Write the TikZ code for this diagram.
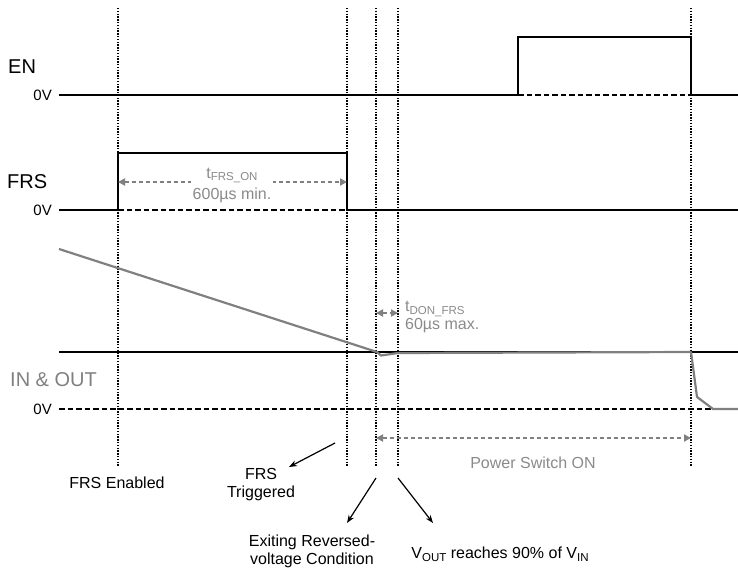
\documentclass[tikz,border=0pt]{standalone}
\usepackage{fontspec}
\setmainfont{Liberation Sans}
\usetikzlibrary{arrows.meta}
\definecolor{wavegray}{RGB}{128,128,128}
\definecolor{txtgray}{RGB}{138,138,138}
\newcommand\mysub[1]{\raisebox{-0.35ex}{\fontsize{11.5}{12}\selectfont #1}}
\begin{document}
\begin{tikzpicture}[x=1pt,y=-1pt,
  sig/.style={line width=2.6pt, black},
  zero/.style={line width=2.4pt, dash pattern=on 5.5pt off 3pt},
  marker/.style={line width=1.2pt, dash pattern=on 1.4pt off 1.4pt},
  wave/.style={wavegray, line width=2.2pt, line join=round},
  garrow/.style={wavegray, line width=1.8pt, dash pattern=on 4pt off 3pt,
    {Triangle[length=7pt,width=7pt]}-{Triangle[length=7pt,width=7pt]}},
  callout/.style={line width=1.2pt, -{Stealth[length=8pt,width=6pt]}},
  lbl/.style={font=\fontsize{20}{22}\selectfont, anchor=west, inner sep=0pt},
  zv/.style={font=\fontsize{15}{17}\selectfont, anchor=east, inner sep=0pt},
  note/.style={font=\fontsize{16}{18}\selectfont, align=center, inner sep=0pt},
]
\useasboundingbox (0,0) rectangle (738,568);
% marker lines
\foreach \xx/\nm in {118/m1,347/m2,376/m3,398/m4,691/m5}{
  \coordinate (\nm t) at (\xx,8);
  \coordinate (\nm b) at (\xx,467);
  \draw[marker] (\nm t) -- (\nm b);
}
% EN
\node[lbl] (enl) at (8,67) {EN};
\node[zv] (en0) at (52,95) {0V};
\draw[sig] (59,95) -- (518,95) -- (518,37) -- (691,37) -- (691,95) -- (738,95);
\draw[zero] (518,95) -- (691,95);
% FRS
\node[lbl] (frsl) at (7,182) {FRS};
\node[zv] (frs0) at (52,210) {0V};
\draw[sig] (59,210) -- (118,210) -- (118,153) -- (347,153) -- (347,210) -- (738,210);
\draw[zero] (118,210) -- (347,210);
\coordinate (fa) at (118,182);
\coordinate (fb) at (347,182);
\draw[garrow] (fa) -- (fb);
\node[note, fill=white, text=txtgray, inner xsep=2pt, font=\fontsize{16}{21}\selectfont] (tfrs) at (232,185) {t\mysub{FRS\_ON}\\600µs min.};
% IN & OUT
\node[lbl, text=wavegray] (iol) at (10,380) {IN \& OUT};
\node[zv] (io0) at (52,409) {0V};
\draw[sig] (59,352) -- (738,352);
\draw[zero] (59,409) -- (738,409);
\draw[wave] (59,249) -- (377,352) -- (381,355.5) -- (398,353) -- (691,352) -- (697,397) -- (713,409) -- (738,409);
\coordinate (da) at (376,313);
\coordinate (db) at (398,313);
\draw[garrow] (da) -- (db);
\node[note, text=txtgray, align=left, anchor=west] (tdon) at (405,317) {t\mysub{DON\_FRS}\\60µs max.};
\coordinate (pa) at (376,438);
\coordinate (pb) at (691,438);
\draw[garrow] (pa) -- (pb);
\node[note, text=txtgray] (pson) at (533,463) {Power Switch ON};
% bottom notes
\node[note] (fen) at (117,483) {FRS Enabled};
\node[note] (ftr) at (261,485) {FRS\\Triggered};
\node[note] (exr) at (312,551) {Exiting Reversed-\\voltage Condition};
\node[note] (vout) at (500,554) {V\mysub{OUT} reaches 90\% of V\mysub{IN}};
\coordinate (c1s) at (335,443);
\coordinate (c1e) at (289,467);
\coordinate (c2s) at (376,478);
\coordinate (c2e) at (347,523);
\coordinate (c3s) at (398,478);
\coordinate (c3e) at (433,523);
\draw[callout] (c1s) -- (c1e);
\draw[callout] (c2s) -- (c2e);
\draw[callout] (c3s) -- (c3e);
\end{tikzpicture}
\end{document}
